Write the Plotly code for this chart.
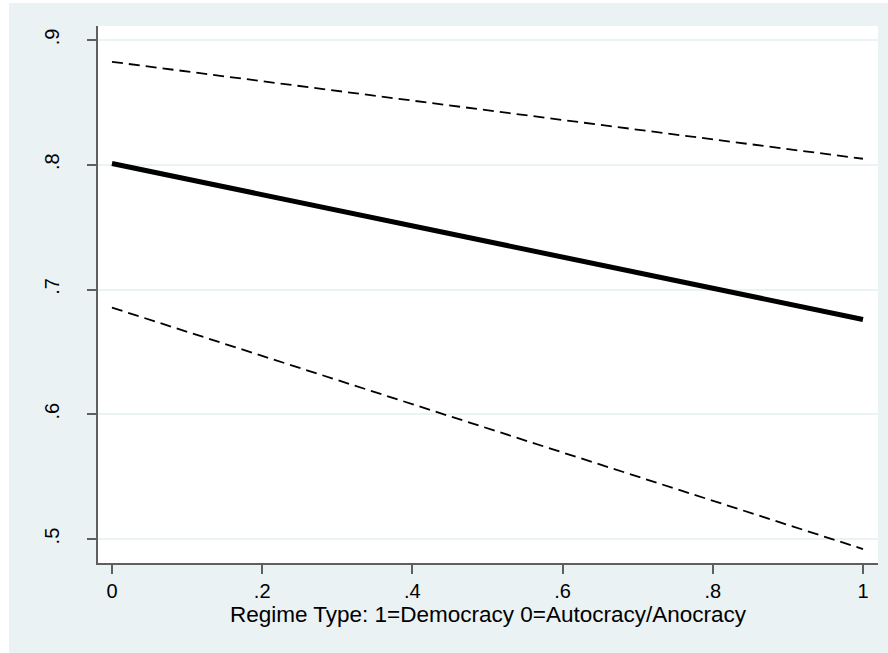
import plotly.graph_objects as go

# Data
regime = [0, 1]
predicted = [0.801, 0.676]
upper_ci = [0.8825, 0.8048]
lower_ci = [0.6855, 0.492]

x_ticks = [0, 0.2, 0.4, 0.6, 0.8, 1]
x_tick_labels = ["0", ".2", ".4", ".6", ".8", "1"]
y_ticks = [0.5, 0.6, 0.7, 0.8, 0.9]
y_tick_labels = [".5", ".6", ".7", ".8", ".9"]

BG = "#EAF2F3"
AX = "#5f5f5f"
W, H = 888, 653
ML, MR, MT, MB = 98, 10, 26, 90
PW, PH = W - ML - MR, H - MT - MB

fig = go.Figure()
fig.add_trace(go.Scatter(x=regime, y=upper_ci, mode="lines",
                         line=dict(color="black", width=1.8, dash="11px,6px"),
                         showlegend=False))
fig.add_trace(go.Scatter(x=regime, y=lower_ci, mode="lines",
                         line=dict(color="black", width=1.8, dash="11px,6px"),
                         showlegend=False))
fig.add_trace(go.Scatter(x=regime, y=predicted, mode="lines",
                         line=dict(color="black", width=5),
                         showlegend=False))

FAM = "Liberation Sans, Arial, sans-serif"
tick_font = dict(family=FAM, size=20, color="black")
title_font = dict(family=FAM, size=22.5, color="black")

fig.update_layout(
    width=W, height=H,
    margin=dict(l=ML, r=MR, t=MT, b=MB, pad=0),
    paper_bgcolor=BG,
    plot_bgcolor="white",
    font=tick_font,
    xaxis=dict(range=[-0.0186, 1.02], tickvals=x_ticks, ticktext=x_tick_labels,
               showgrid=False, zeroline=False, showline=True, linecolor=AX, linewidth=1.5,
               ticks="outside", ticklen=9, tickcolor=AX, tickwidth=1.5,
               title=dict(text="Regime Type: 1=Democracy 0=Autocracy/Anocracy",
                          font=title_font, standoff=0),
               tickfont=tick_font),
    yaxis=dict(range=[0.4808, 0.9112], tickvals=y_ticks, ticktext=y_tick_labels,
               showgrid=True, gridcolor=BG, gridwidth=2, zeroline=False,
               showline=True, linecolor=AX, linewidth=1.5,
               ticks="outside", ticklen=9, tickcolor=AX, tickwidth=1.5,
               tickangle=-90, tickfont=tick_font, ticklabelstandoff=20),
    shapes=[
        dict(type="rect", xref="paper", yref="paper", layer="above",
             x0=(0 - ML) / PW, x1=(9 - ML) / PW, y0=-MB / PH, y1=(PH + MT) / PH,
             fillcolor="white", line=dict(width=0)),
        dict(type="rect", xref="paper", yref="paper", layer="above",
             x0=(0 - ML) / PW, x1=(W - ML) / PW, y0=(PH + MT - 3) / PH, y1=(PH + MT) / PH,
             fillcolor="white", line=dict(width=0)),
    ],
)

fig.write_html("out.html", config={"displayModeBar": False},
               post_script="document.body.style.margin='0';")
